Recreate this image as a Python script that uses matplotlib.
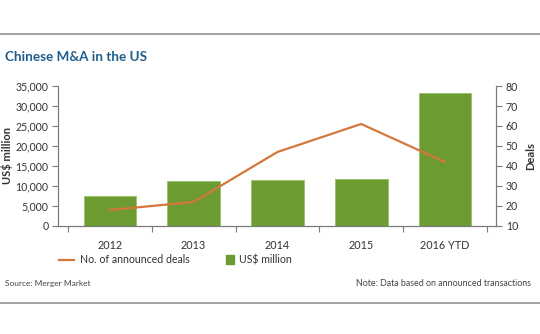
import matplotlib
matplotlib.use('Agg')
import matplotlib.pyplot as plt
from matplotlib.lines import Line2D
from matplotlib.patches import Patch

years = ['2012', '2013', '2014', '2015', '2016 YTD']
value_usd = [7500, 11300, 11500, 11800, 33200]
deals = [18, 22, 47, 61, 42]

green = '#6c9b31'
orange = '#d4773a'
text_col = '#333333'
plt.rcParams['font.family'] = ['Lato', 'DejaVu Sans']
narrow = ['Liberation Sans Narrow', 'Lato', 'DejaVu Sans']

fig = plt.figure(figsize=(5.4, 3.34), dpi=100)
ax = fig.add_axes([0.1074, 0.3234, 0.8111, 0.4191])
ax2 = ax.twinx()

x = list(range(len(years)))
ax.bar(x, value_usd, width=0.63, color=green, edgecolor='#94c264', linewidth=0.6, zorder=2)
ax2.plot(x, deals, color=orange, linewidth=1.6, zorder=3)

ax.set_xlim(-0.62, 4.61)
ax.set_ylim(0, 35000)
ax2.set_ylim(10, 80)
ax.set_yticks(range(0, 35001, 5000))
ax.set_yticklabels([f'{v:,}' for v in range(0, 35001, 5000)], family=narrow)
ax2.set_yticks(range(10, 81, 10))
ax2.set_yticklabels([str(v) for v in range(10, 81, 10)], family=narrow)

# year labels centred under bars, ticks between categories
ax.set_xticks([i - 0.5 for i in range(len(years) + 1)])
ax.set_xticklabels([])
ax.set_xticks(x, minor=True)
ax.set_xticklabels(years, minor=True, family=narrow)
ax.tick_params(axis='x', which='minor', length=0, pad=10)

for a in (ax, ax2):
    a.spines['top'].set_visible(False)
    for s in ('left', 'right', 'bottom'):
        a.spines[s].set_color('#7a7a7a')
        a.spines[s].set_linewidth(0.8)
    a.tick_params(which='major', length=4, width=0.8, color='#7a7a7a',
                  labelsize=7.6, labelcolor=text_col, pad=3)
    a.tick_params(which='minor', labelsize=7.8, labelcolor=text_col)
ax.set_zorder(ax2.get_zorder() - 1)
ax2.patch.set_visible(False)
ax.patch.set_visible(False)

ax.set_ylabel('US$ million', fontsize=8, fontweight='bold', color=text_col)
ax2.set_ylabel('Deals', fontsize=8, fontweight='bold', color=text_col)
ax.yaxis.set_label_coords(-0.103, 0.5)
ax2.yaxis.set_label_coords(1.066, 0.5)

fig.text(0.009, 0.828, 'Chinese M&A in the US', fontsize=9.7, fontweight='bold',
         color='#1f5e8c', va='center')

leg1 = fig.legend([Line2D([], [], color=orange, linewidth=1.6)], ['No. of announced deals'],
                  loc='center left', bbox_to_anchor=(0.092, 0.222), frameon=False,
                  fontsize=7.6, handlelength=1.45, handletextpad=0.5, labelcolor=text_col)
leg2 = fig.legend([Patch(facecolor=green, edgecolor=green)], ['US$ million'],
                  loc='center left', bbox_to_anchor=(0.4, 0.222), frameon=False,
                  fontsize=7.6, handlelength=0.85, handleheight=0.85, handletextpad=0.4,
                  labelcolor=text_col)

fig.text(0.009, 0.152, 'Source: Merger Market', fontsize=6, color='#444444', va='center')
fig.text(0.983, 0.152, 'Note: Data based on announced transactions', fontsize=6.4,
         color='#444444', va='center', ha='right')

for yy in (0.898, 0.094):
    fig.add_artist(Line2D([0, 1], [yy, yy], color='#a3a3a3', linewidth=1.4))

fig.savefig('out.png', dpi=100)
